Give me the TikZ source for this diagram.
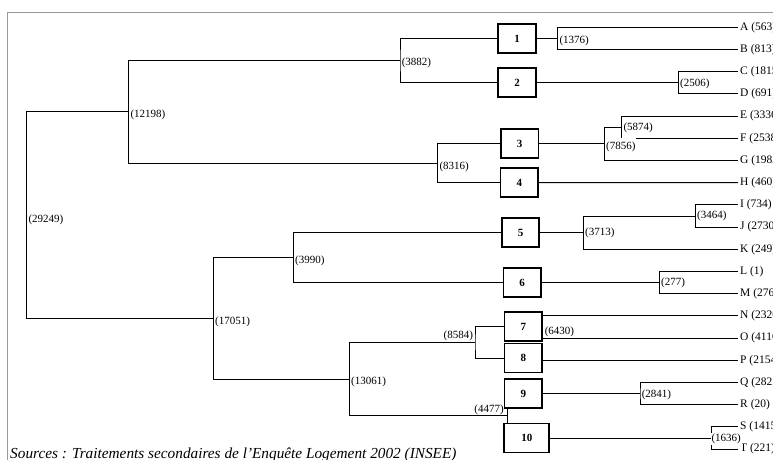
\documentclass[tikz,border=0pt]{standalone}
\usepackage{fontspec}
\setmainfont{Liberation Serif}
\begin{document}
\begin{tikzpicture}[x=1pt,y=-1pt,
  link/.style={line width=1pt, draw=black},
  frameline/.style={line width=1pt, draw=black!40},
  box/.style={draw, line width=1.8pt, minimum width=37.5pt, minimum height=29pt, inner sep=0pt, font=\fontsize{11}{12}\selectfont\bfseries, fill=white},
  leaf/.style={anchor=west, inner sep=2pt, font=\fontsize{11.5}{12}\selectfont},
  cnt/.style={anchor=west, inner sep=1pt, xshift=0.6pt, yshift=-2pt, font=\fontsize{11}{12}\selectfont, fill=white},
  cntl/.style={anchor=south east, inner sep=1pt, font=\fontsize{11}{12}\selectfont},
]
\useasboundingbox (0,0) rectangle (773,460);
\clip (0,0) rectangle (773,460);
% frame
\draw[frameline] (7.5,470) -- (7.5,12.5) -- (780,12.5);
% caption
\node[anchor=base west, inner sep=0pt, font=\fontsize{15.3}{18}\selectfont\itshape] (cap) at (10,458.5) {Sources : Traitements secondaires de l’Enquête Logement 2002 (INSEE)};
% leaves
\foreach \n/\v [count=\i from 0] in {A/563,B/813,C/1815,D/691,E/3336,F/2538,G/1982,H/460,I/734,J/2730,K/249,L/1,M/276,N/2320,O/4110,P/2154,Q/2821,R/20,S/1415,T/221}
  \node[leaf] (\n) at (738,{27.3+22.2*\i}) {\n\ (\v)};
% boxes
\node[box] (b1) at (517,38.4) {1};
\node[box] (b2) at (517,82.8) {2};
\node[box] (b3) at (519.7,143.85) {3};
\node[box] (b4) at (519.3,182.7) {4};
\node[box] (b5) at (520.5,232.65) {5};
\node[box] (b6) at (522.2,282.6) {6};
\node[box] (b7) at (523.3,326.5) {7};
\node[box] (b8) at (523.3,358) {8};
\node[box] (b9) at (523.3,393.6) {9};
\node[box, minimum width=45pt] (b10) at (526.8,438) {10};
% junctions
\coordinate (k1376) at (557.7,38.4);
\coordinate (k2506) at (678.3,82.8);
\coordinate (k5874) at (621.7,127.2);
\coordinate (k7856) at (604.3,143.85);
\coordinate (k3464) at (695.3,216);
\coordinate (k3713) at (583.3,232.65);
\coordinate (k277) at (659.3,282.6);
\coordinate (k2841) at (640,393.6);
\coordinate (k1636) at (711.7,438);
\coordinate (k3882) at (400,60.6);
\coordinate (k8316) at (437.7,163.3);
\coordinate (k12198) at (128.7,111.9);
\coordinate (k3990) at (293.3,257.6);
\coordinate (k8584) at (475,342.25);
\coordinate (k4477) at (507,415.8);
\coordinate (k13061) at (349.3,379);
\coordinate (k17051) at (213.3,318.3);
\coordinate (k29249) at (26.7,215.1);
% right-hand links
\draw[link] (A.west) -| (k1376) |- (B.west);
\draw[link] (b1.east) -- (k1376);
\draw[link] (C.west) -| (k2506) |- (D.west);
\draw[link] (b2.east) -- (k2506);
\draw[link] (E.west) -| (k5874) |- (F.west);
\draw[link] (k5874) -| (k7856) |- (G.west);
\draw[link] (b3.east) -- (k7856);
\draw[link] (b4.east) -- (H.west);
\draw[link] (I.west) -| (k3464) |- (J.west);
\draw[link] (k3464) -| (k3713) |- (K.west);
\draw[link] (b5.east) -- (k3713);
\draw[link] (L.west) -| (k277) |- (M.west);
\draw[link] (b6.east) -- (k277);
\draw[link] (b7.east |- N.west) -- (N.west);
\draw[link] (b7.east |- O.west) -- (O.west);
\draw[link] (b8.east |- P.west) -- (P.west);
\draw[link] (Q.west) -| (k2841) |- (R.west);
\draw[link] (b9.east) -- (k2841);
\draw[link] (S.west) -| (k1636) |- (T.west);
\draw[link] (b10.east) -- (k1636);
% left-hand links
\draw[link] (b1.west) -| (k3882) |- (b2.west);
\draw[link] (b3.west) -| (k8316) |- (b4.west);
\draw[link] (k3882) -| (k12198) |- (k8316);
\draw[link] (b5.west) -| (k3990) |- (b6.west);
\draw[link] (b7.west) -| (k8584) |- (b8.west);
\draw[link] (b9.south -| k4477) -- (b10.north -| k4477);
\draw[link] (k8584) -| (k13061) |- (k4477);
\draw[link] (k3990) -| (k17051) |- (k13061);
\draw[link] (k12198) -| (k29249) |- (k17051);
% counts
\node[cnt] (c1376) at (k1376) {(1376)};
\node[cnt, yshift=1pt] (c2506) at (k2506) {(2506)};
\node[cnt, yshift=1pt] (c5874) at (k5874) {(5874)};
\node[cnt, yshift=-1pt, inner ysep=4pt] (c7856) at (k7856) {(7856)};
\node[cnt, yshift=2pt] (c3464) at (k3464) {(3464)};
\node[cnt, yshift=2pt] (c3713) at (k3713) {(3713)};
\node[cnt, yshift=2pt] (c277) at (k277) {(277)};
\node[cnt, yshift=1pt] (c2841) at (k2841) {(2841)};
\node[cnt, xshift=-2pt, yshift=1pt] (c1636) at (k1636) {(1636)};
\node[cnt, yshift=2pt] (c6430) at (b7.east |- 0,331.7) {(6430)};
\node[cnt] (c3882) at (k3882) {(3882)};
\node[cnt, yshift=-2pt] (c8316) at (k8316) {(8316)};
\node[cnt, yshift=-1pt] (c12198) at (k12198) {(12198)};
\node[cnt, yshift=-1pt] (c3990) at (k3990) {(3990)};
\node[cntl] (c8584) at ([xshift=-0.8pt]k8584) {(8584)};
\node[cntl] (c4477) at ([xshift=-2pt]k4477) {(4477)};
\node[cnt, yshift=-1pt] (c13061) at (k13061) {(13061)};
\node[cnt, yshift=-1.5pt] (c17051) at (k17051) {(17051)};
\node[cnt, yshift=-3pt] (c29249) at (k29249) {(29249)};
\end{tikzpicture}
\end{document}
